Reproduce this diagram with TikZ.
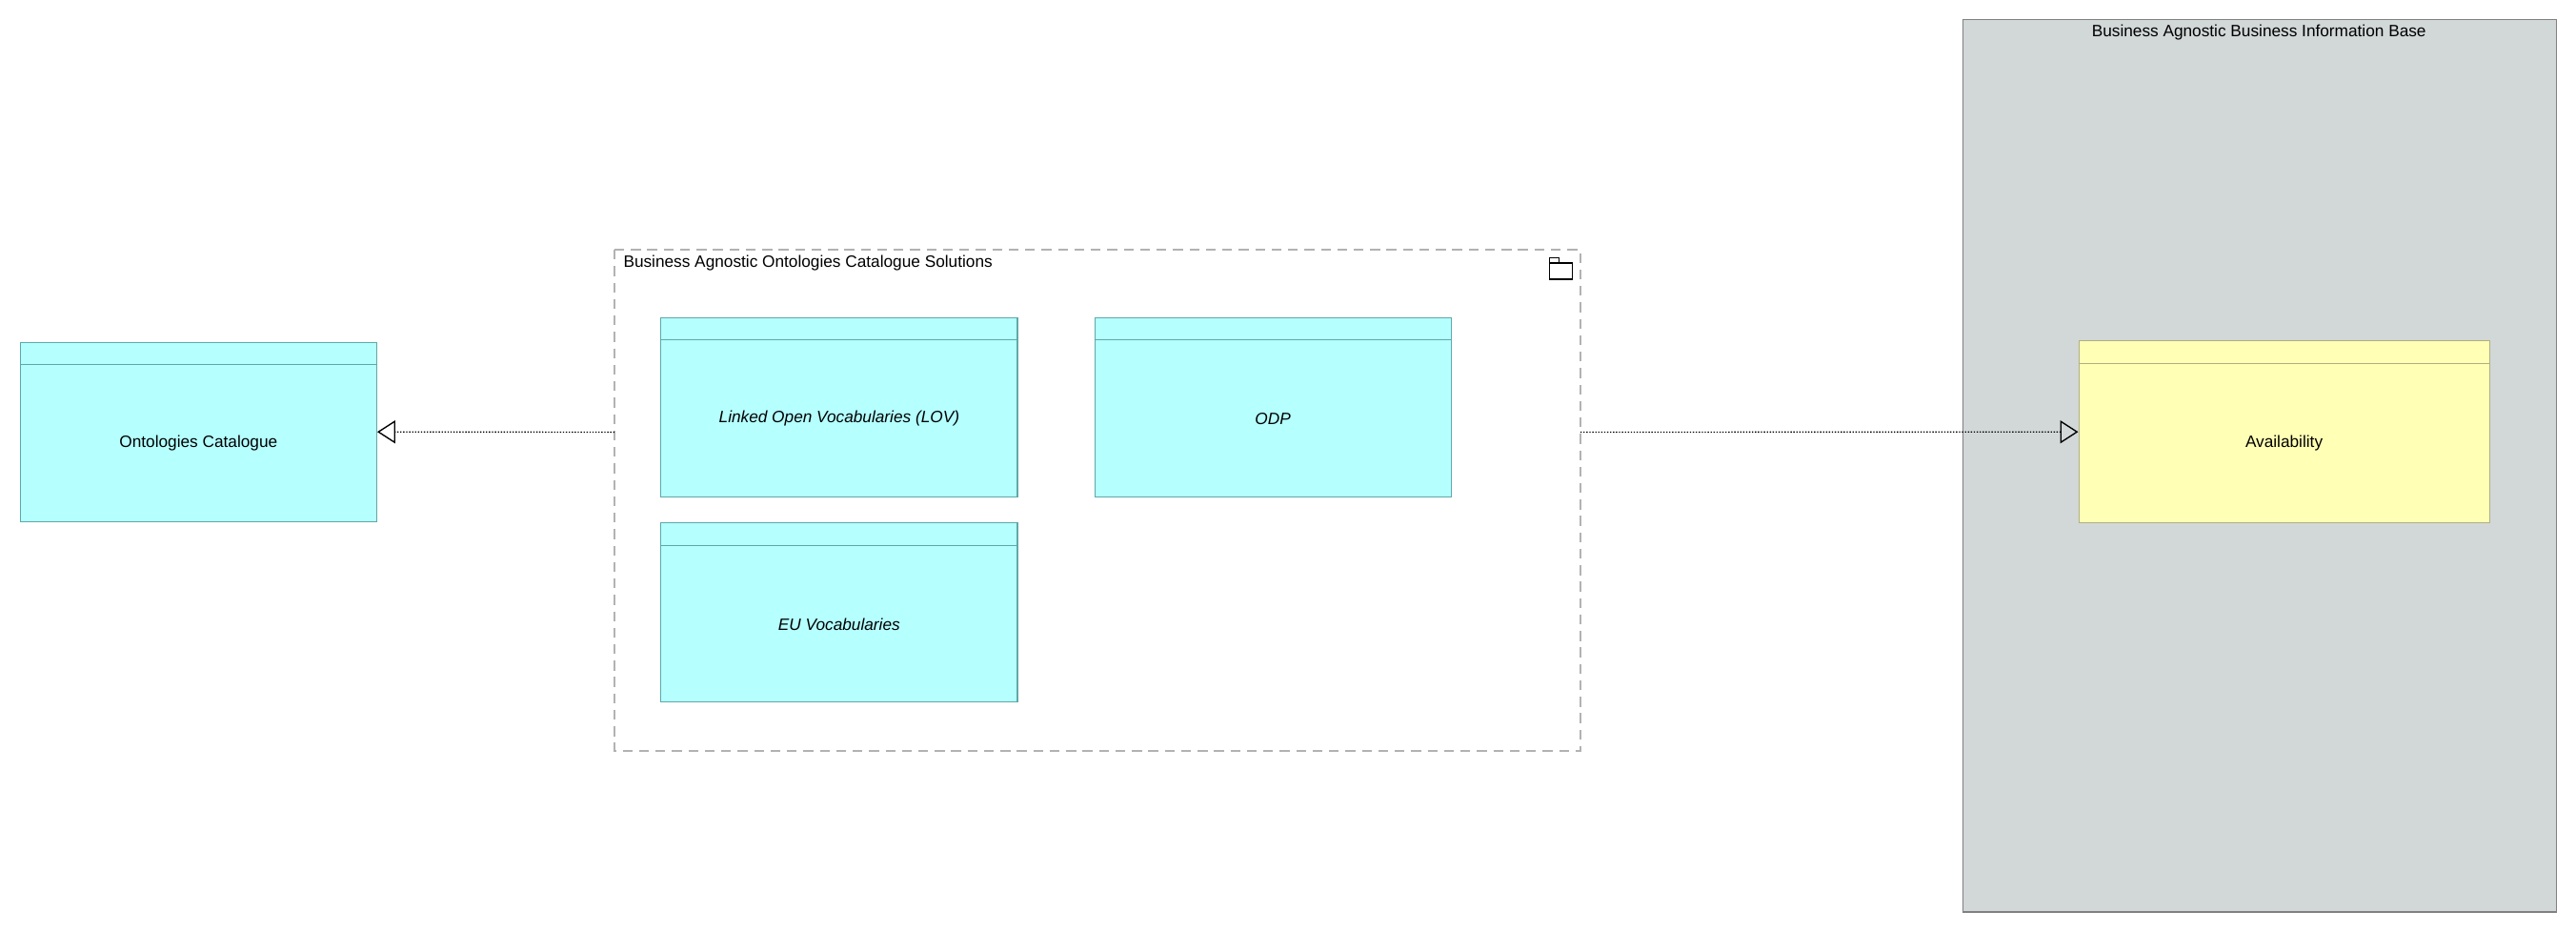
\documentclass[tikz,border=0pt]{standalone}
\usepackage{fontspec}
\setmainfont{Liberation Sans}
\usetikzlibrary{positioning, arrows.meta}
\definecolor{appcyan}{HTML}{B5FFFF}
\definecolor{appcyanline}{HTML}{5FA8A8}
\definecolor{bizyellow}{HTML}{FFFFB5}
\definecolor{bizyellowline}{HTML}{B0B080}
\definecolor{grpgray}{HTML}{D2D7D7}
\tikzset{>=latex}

\begin{document}
\begin{tikzpicture}[x=1pt, y=-1pt,
                    every node/.style={font=\fontsize{10}{12}\selectfont},
                    elem/.style={draw, line width=0.6pt, minimum width=217pt, minimum height=109pt, inner sep=0pt},
                    app/.style={elem, fill=appcyan, draw=appcyanline},
                    biz/.style={elem, fill=bizyellow, draw=bizyellowline, minimum width=250pt, minimum height=111pt},
                    realize/.style={densely dotted, line width=0.8pt, -{Triangle[open, length=11pt, width=14pt, line width=0.8pt]}}]
  \useasboundingbox (0,0) rectangle (1568,567);

  % groups
  \draw[fill=grpgray, draw=gray, line width=0.8pt] (1195,12) rectangle (1556,555);
  \node (baseTitle) at (1375,20) {Business Agnostic Business Information Base};
  \draw[dashed, draw=gray!60, line width=0.8pt, dash pattern=on 6pt off 4pt] (374,152) rectangle (962,457);
  \coordinate (solW) at (374,263);
  \coordinate (solE) at (962,263);
  \node[anchor=west] (solTitle) at (376,160) {Business Agnostic Ontologies Catalogue Solutions};
  \draw[line width=0.8pt] (943,160) rectangle (957,170) (943,160) -- (943,157) -- (949,157) -- (949,160);

  % elements
  \node[app, anchor=north west] (catalogue) at (12,208) {};
  \node (catalogueLbl) at ([yshift=-7pt]catalogue.center) {Ontologies Catalogue};
  \node[app, anchor=north west] (lov) at (402,193) {};
  \node (lovLbl) at ([yshift=-7pt]lov.center) {\itshape Linked Open Vocabularies (LOV)};
  \node[app, anchor=north west] (odp) at (666,193) {};
  \node (odpLbl) at ([yshift=-7pt]odp.center) {\itshape ODP};
  \node[app, anchor=north west] (euvoc) at (402,318) {};
  \node (euvocLbl) at ([yshift=-7pt]euvoc.center) {\itshape EU Vocabularies};
  \node[biz, anchor=north west] (avail) at (1265,207) {};
  \node (availLbl) at ([yshift=-7pt]avail.center) {Availability};

  % header bars
  \foreach \n in {catalogue, lov, odp, euvoc}
    \draw[appcyanline, line width=0.6pt] ([yshift=-14pt]\n.north west) -- ([yshift=-14pt]\n.north east);
  \draw[bizyellowline, line width=0.6pt] ([yshift=-14pt]avail.north west) -- ([yshift=-14pt]avail.north east);

  % relations
  \draw[realize] (solW) -- (catalogue.east);
  \draw[realize] (solE) -- (avail.west);
\end{tikzpicture}
\end{document}
